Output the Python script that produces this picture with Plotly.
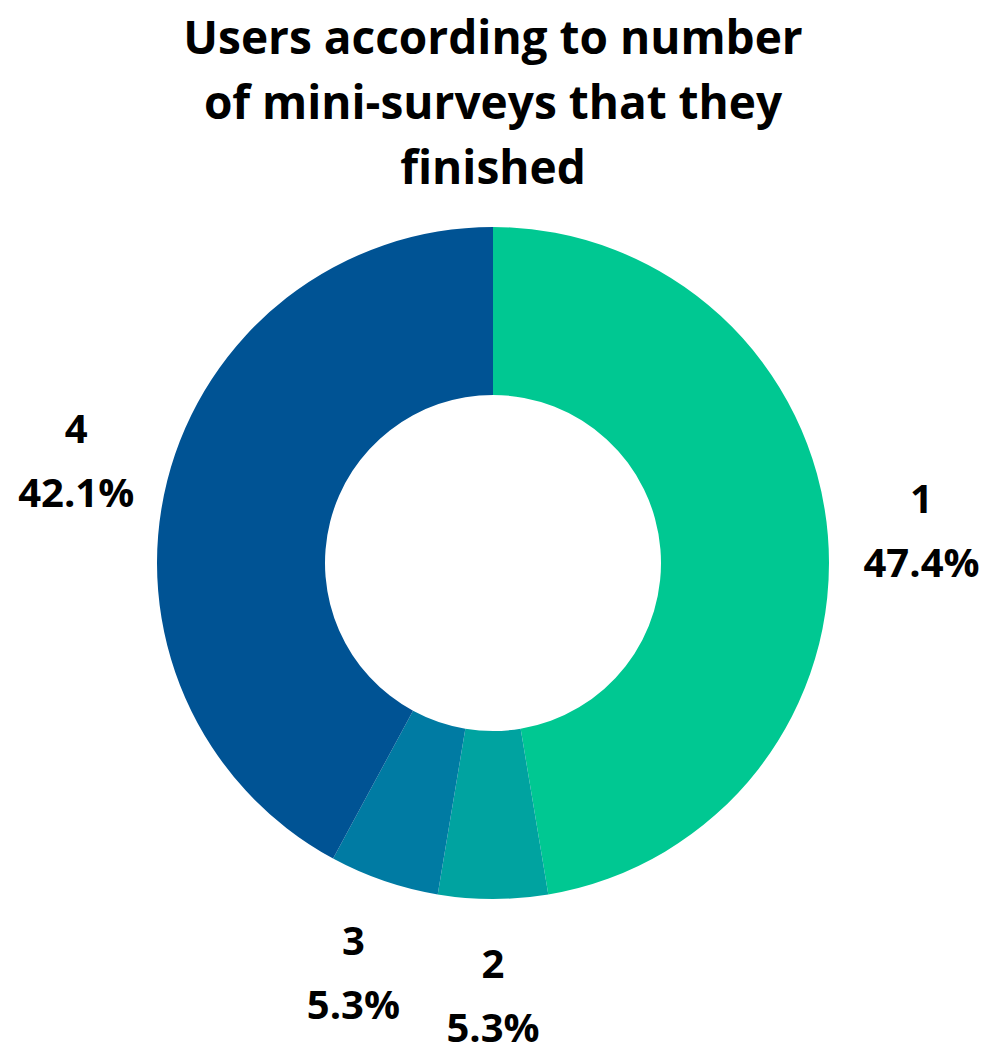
import plotly.graph_objects as go

# Number of mini-surveys finished and the user count for each
categories = ["1", "2", "3", "4"]
user_counts = [9, 1, 1, 8]
slice_colors = ["#00C892", "#00A3A0", "#007BA3", "#005394"]

title_lines = ["Users according to number", "of mini-surveys that they", "finished"]

FONT = "Open Sans"
LABEL_PX = 40       # glyph size of the slice labels
LABEL_LINE_PX = 49  # sets the line pitch of the two-line labels

# Frame: the polar label axis fills the plot area, the donut sits inside it
FRAME_R = 460   # px, radius of the polar frame
DONUT_R = 336   # px, outer radius of the donut
LABEL_R = 430   # px, distance of label centres from the donut centre
LABEL_DY = 5    # px, labels sit this much lower than the donut centre line
CX, CY = 493, 563
W, H = 992, 1046


def sized(text, px):
    return f'<span style="font-size:{px}px">{text}</span>'


total = sum(user_counts)
mid_angles = []
running = 0
for v in user_counts:
    mid_angles.append((running + v / 2) / total * 360)
    running += v
label_texts = [
    sized(c, LABEL_PX) + "<br>" + sized(f"{v / total * 100:.1f}%", LABEL_PX)
    for c, v in zip(categories, user_counts)
]

frame_cy = CY + LABEL_DY
donut_frac = DONUT_R / FRAME_R
dy_frac = LABEL_DY / (2 * FRAME_R)
dom_x = [0.5 - donut_frac / 2, 0.5 + donut_frac / 2]
dom_y = [0.5 - donut_frac / 2 + dy_frac, 0.5 + donut_frac / 2 + dy_frac]

fig = go.Figure()

fig.add_trace(
    go.Pie(
        labels=categories,
        values=user_counts,
        hole=0.5,
        sort=False,
        direction="clockwise",
        rotation=0,
        domain=dict(x=dom_x, y=dom_y),
        marker=dict(colors=slice_colors, line=dict(width=0)),
        textinfo="none",
        showlegend=False,
        hoverinfo="label+percent",
    )
)

# Slice labels on a hidden polar axis centred under the donut
fig.add_trace(
    go.Scatterpolar(
        r=[LABEL_R / FRAME_R] * len(categories),
        theta=mid_angles,
        mode="text",
        text=label_texts,
        textposition="middle center",
        textfont=dict(family=FONT, size=LABEL_LINE_PX, color="#000000", weight="bold"),
        cliponaxis=False,
        hoverinfo="skip",
        showlegend=False,
    )
)

fig.update_layout(
    width=W,
    height=H,
    margin=dict(
        l=CX - FRAME_R,
        r=W - CX - FRAME_R,
        t=frame_cy - FRAME_R,
        b=H - frame_cy - FRAME_R,
    ),
    paper_bgcolor="#ffffff",
    plot_bgcolor="#ffffff",
    showlegend=False,
    polar=dict(
        domain=dict(x=[0, 1], y=[0, 1]),
        bgcolor="rgba(0,0,0,0)",
        angularaxis=dict(rotation=90, direction="clockwise", visible=False),
        radialaxis=dict(range=[0, 1], visible=False),
    ),
    title=dict(
        text="<br>".join(sized(t, 46) for t in title_lines),
        font=dict(family=FONT, size=50, color="#000000", weight="bold"),
        x=0.497,
        xanchor="center",
        yref="container",
        y=0.948,
        yanchor="middle",
    ),
)

fig.write_html("out.html")
